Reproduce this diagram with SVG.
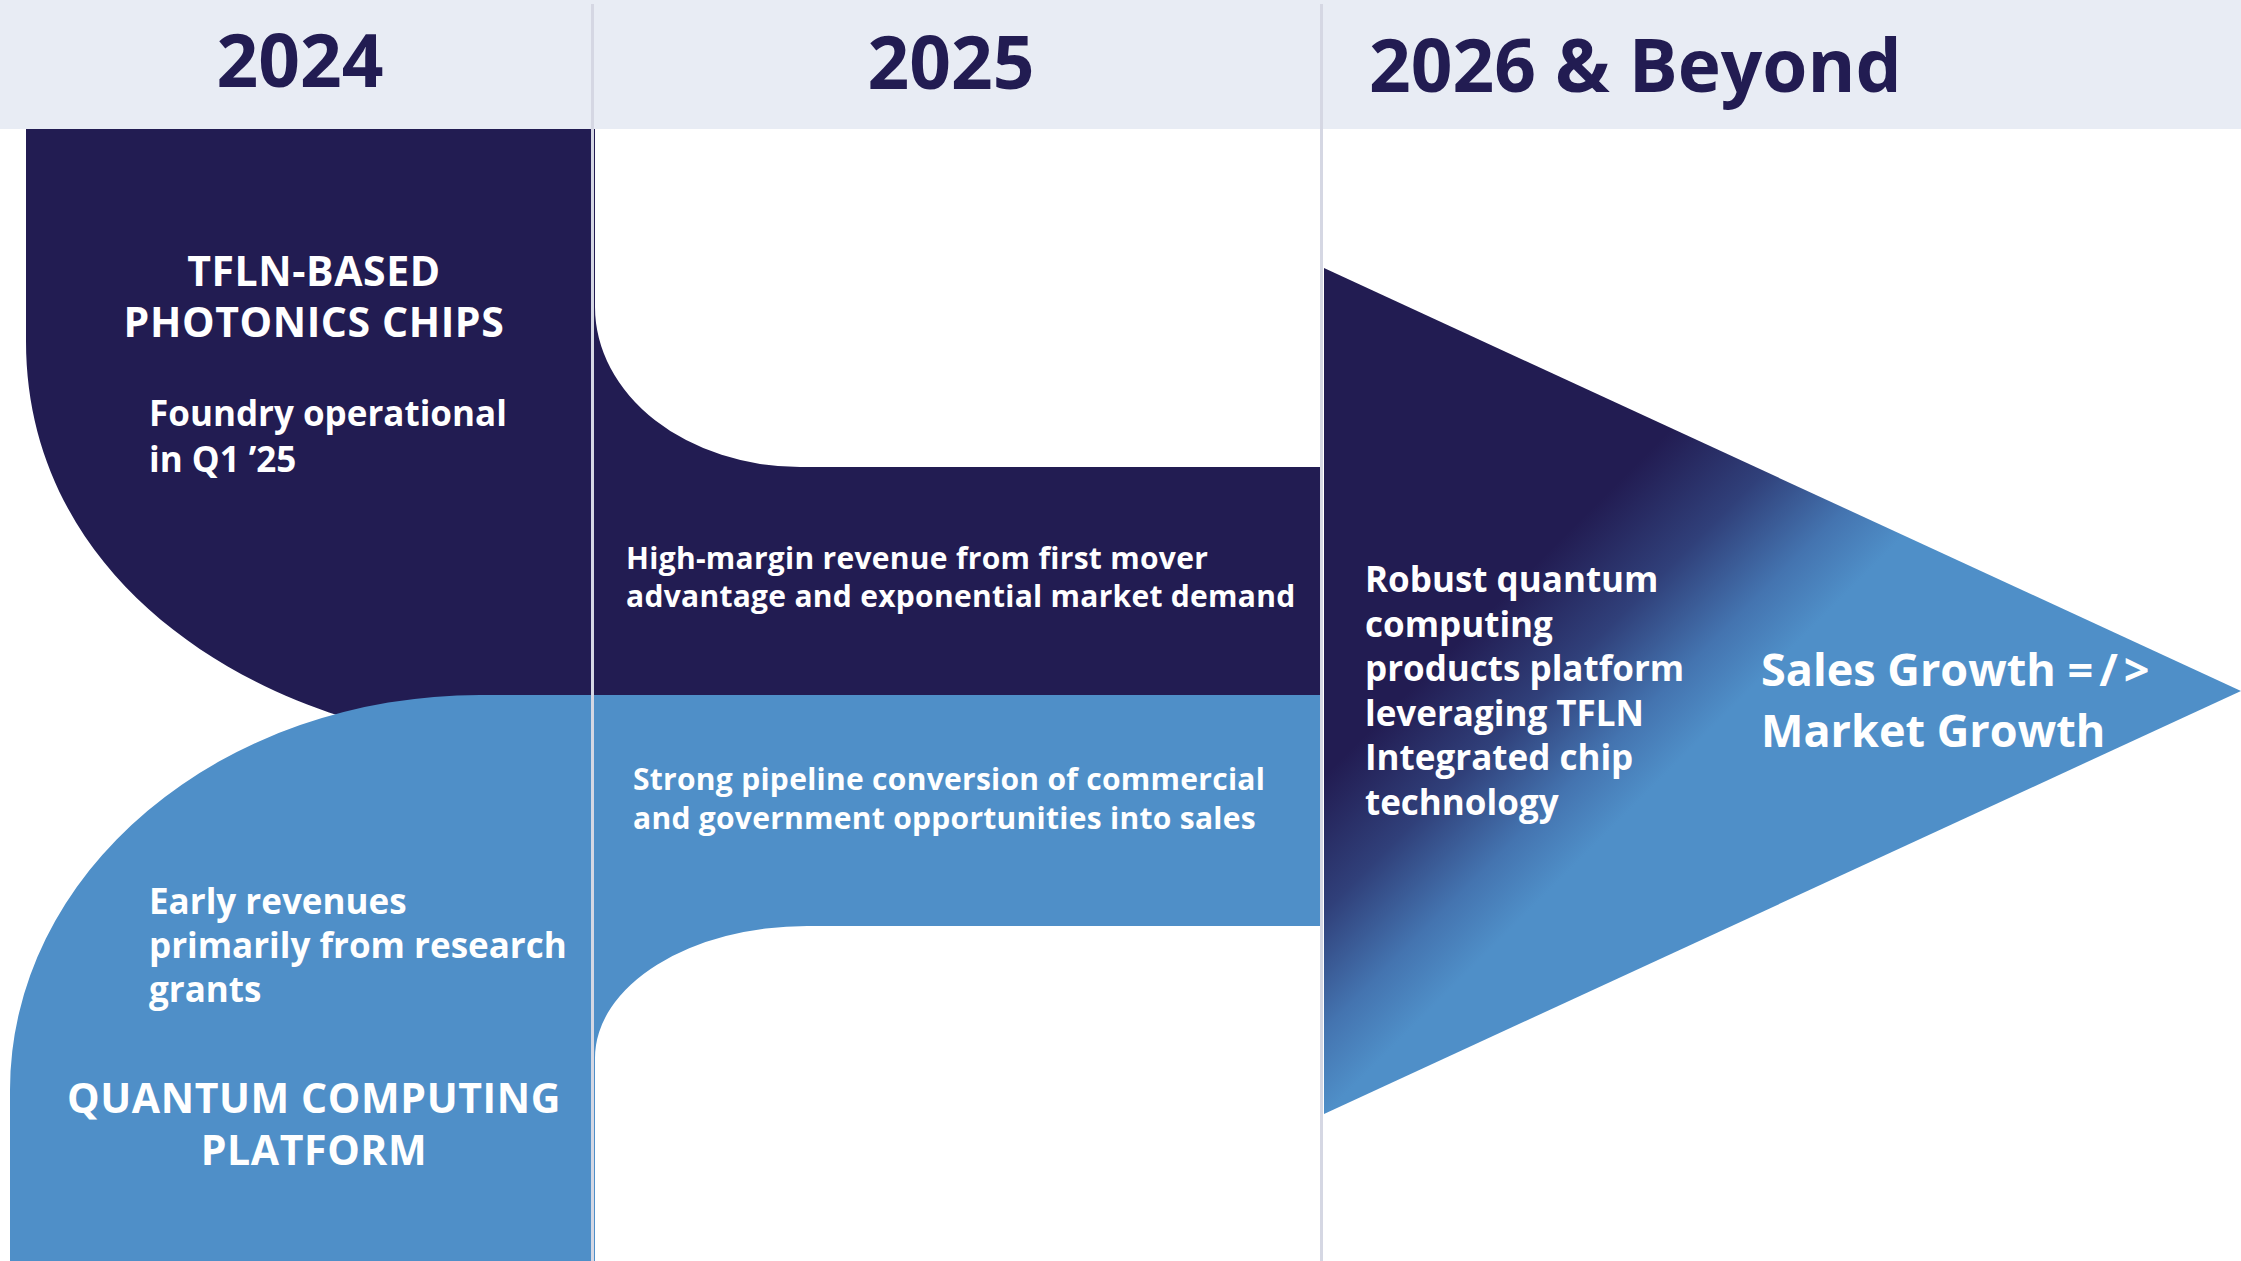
<svg xmlns="http://www.w3.org/2000/svg" width="2241" height="1261" viewBox="0 0 2241 1261">
<defs>
<linearGradient id="arrowGrad" gradientUnits="userSpaceOnUse" x1="1050" y1="1050" x2="1220" y2="1220">
<stop offset="0" stop-color="#221C52"/>
<stop offset="0.4" stop-color="#30407A"/>
<stop offset="0.75" stop-color="#4474B0"/>
<stop offset="1" stop-color="#4F8FC8"/>
</linearGradient>
<style>
.hdr{font-family:"Open Sans","Liberation Sans",sans-serif;font-weight:700;font-size:73px;fill:#221C52}
.t{font-family:"Open Sans","Liberation Sans",sans-serif;font-weight:700;fill:#FFFFFF}
.title{font-size:41px;letter-spacing:0.6px}
.body{font-size:35px}
.band{font-size:30px;letter-spacing:0.28px}
.big{font-size:45px}
.navy{fill:#221C52}
.blue{fill:#4F8FC8}
.div{fill:#D5D7E3}
</style>
</defs>
<rect x="0" y="0" width="2241" height="1261" fill="#FFFFFF"/>
<g id="header">
<rect x="0" y="0" width="2241" height="129" fill="#E8ECF4"/>
<text class="hdr" x="300" y="87" text-anchor="middle">2024</text>
<text class="hdr" x="951" y="89" text-anchor="middle">2025</text>
<text class="hdr" x="1369" y="92">2026 &amp; Beyond</text>
</g>
<g id="tfln-photonics">
<path class="navy" d="M26,129 H595 V307 A205,160 0 0 0 800,467 H1322 V695 H600 V760 L340,716 C180,665 26,540 26,341 Z"/>
<text class="t title" x="314" y="286" text-anchor="middle" letter-spacing="1.5">TFLN-BASED</text>
<text class="t title" x="314" y="337" text-anchor="middle">PHOTONICS CHIPS</text>
<text class="t body" x="149" y="426">Foundry operational</text>
<text class="t body" x="149" y="472">in Q1 ’25</text>
<text class="t band" x="626" y="569">High-margin revenue from first mover</text>
<text class="t band" x="626" y="607">advantage and exponential market demand</text>
</g>
<g id="quantum-platform">
<path class="blue" d="M10,1261 V1090 A470,395 0 0 1 480,695 H1322 V926 H807 A212,132 0 0 0 595,1058 V1261 Z"/>
<text class="t body" x="149" y="914">Early revenues</text>
<text class="t body" x="149" y="958">primarily from research</text>
<text class="t body" x="149" y="1002">grants</text>
<text class="t title" x="314" y="1113" text-anchor="middle">QUANTUM COMPUTING</text>
<text class="t title" x="314" y="1165" text-anchor="middle">PLATFORM</text>
<text class="t band" x="633" y="790">Strong pipeline conversion of commercial</text>
<text class="t band" x="633" y="829">and government opportunities into sales</text>
</g>
<g id="growth-arrow">
<polygon points="1324,268 2241,691 1324,1114" fill="url(#arrowGrad)"/>
<text class="t body" x="1365" y="592">Robust quantum</text>
<text class="t body" x="1365" y="637">computing</text>
<text class="t body" x="1365" y="681">products platform</text>
<text class="t body" x="1365" y="726">leveraging TFLN</text>
<text class="t body" x="1365" y="770">Integrated chip</text>
<text class="t body" x="1365" y="815">technology</text>
<text class="t big" x="1761" y="686">Sales Growth <tspan letter-spacing="6">=/&gt;</tspan></text>
<text class="t big" x="1761" y="747">Market Growth</text>
</g>
<g id="dividers">
<rect class="div" x="591" y="4" width="3" height="1257"/>
<rect class="div" x="1320" y="4" width="3" height="1257"/>
</g>
<g id="connectors"></g>
</svg>
